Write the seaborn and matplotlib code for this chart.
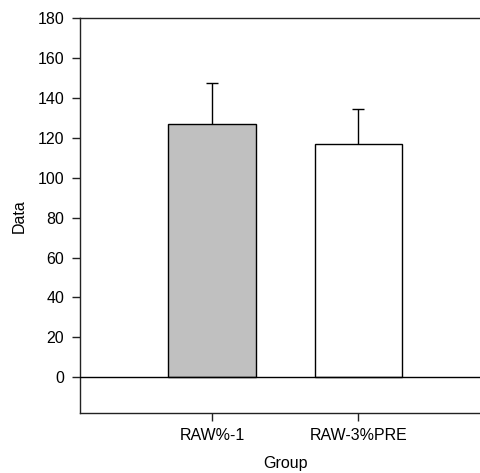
import matplotlib
matplotlib.use("Agg")
import matplotlib.pyplot as plt
import seaborn as sns
import pandas as pd

# Group means and upper error (SD) values
groups = ["RAW%-1", "RAW-3%PRE"]
means = [126.8, 117.1]
errors = [20.6, 17.5]
fill_colors = ["#c0c0c0", "#ffffff"]

sns.set_theme(style="white")
plt.rcParams["font.family"] = ["Liberation Sans", "DejaVu Sans"]
plt.rcParams["font.size"] = 11.5

df = pd.DataFrame({"Group": groups, "Data": means})

fig = plt.figure(figsize=(4.81, 4.73), dpi=100)
ax = fig.add_axes([80 / 481, 1 - 413 / 473, 410 / 481, (413 - 18.5) / 473])

sns.barplot(data=df, x="Group", y="Data", hue="Group", palette=fill_colors,
            errorbar=None, width=0.6, edgecolor="black", linewidth=1.0,
            legend=False, ax=ax)
for patch in ax.patches:
    patch.set_zorder(2)

# Upper-only error bars placed on the bar centres
for patch, m, e in zip(list(ax.patches), means, errors):
    cx = patch.get_x() + patch.get_width() / 2
    cont = ax.errorbar(cx, m, yerr=[[0], [e]], fmt="none", ecolor="black",
                       elinewidth=1.0, capsize=4.5, capthick=1.0, zorder=1)
    caps = cont.lines[1]
    if len(caps) > 1:
        caps[0].set_visible(False)

ax.axhline(0, color="black", linewidth=1.0, zorder=3)

ax.set_xlim(-0.904, 1.9)
ax.set_ylim(-18, 180)
ax.set_yticks(range(0, 181, 20))

for side in ["left", "bottom", "top", "right"]:
    ax.spines[side].set_color("#222222")
    ax.spines[side].set_linewidth(1.0)

ax.tick_params(axis="both", which="major", direction="out", length=5.8,
               width=1.0, color="#222222", labelsize=11.5, labelcolor="black",
               left=True, bottom=True)
ax.tick_params(axis="y", pad=5.5)
ax.tick_params(axis="x", pad=5.0)

ax.set_xlabel("Group", fontsize=11.5, color="black", labelpad=9)
ax.set_ylabel("Data", fontsize=11.5, color="black", labelpad=8)

fig.savefig("out.png", dpi=100)
